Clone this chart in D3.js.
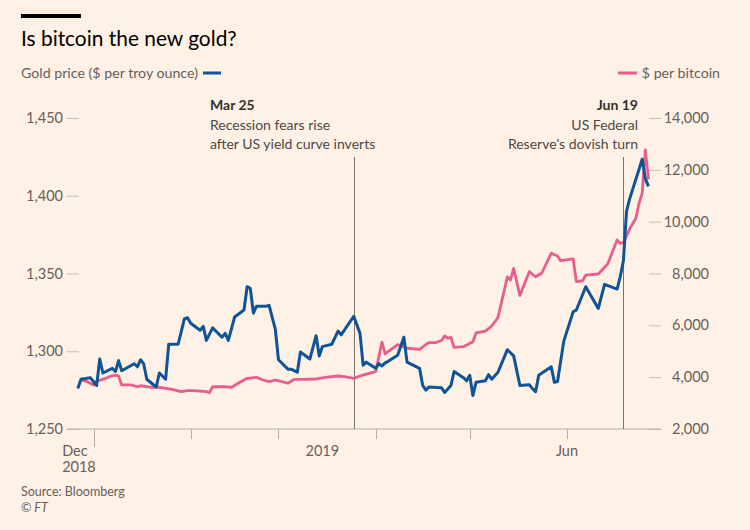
<!DOCTYPE html>
<html><head><meta charset="utf-8">
<script src="https://cdn.jsdelivr.net/npm/d3@7"></script>
<style>
body{margin:0;background:#fff1e5;}
svg{display:block;font-family:Lato,"Noto Sans",sans-serif;}
</style>
</head><body><svg id="chart" width="750" height="530"></svg>
<script>
// ---------------- DATA ----------------
const goldDates = ["2018-12-27","2018-12-28","2018-12-31","2019-01-02","2019-01-03","2019-01-04","2019-01-07","2019-01-08","2019-01-09","2019-01-10",
"2019-01-14","2019-01-15","2019-01-16","2019-01-17","2019-01-18","2019-01-21","2019-01-22","2019-01-24","2019-01-25","2019-01-28",
"2019-01-30","2019-01-31","2019-02-01","2019-02-04","2019-02-05","2019-02-06","2019-02-08","2019-02-11","2019-02-12","2019-02-13",
"2019-02-15","2019-02-18","2019-02-19","2019-02-20","2019-02-21","2019-02-22","2019-02-25","2019-02-26","2019-02-28","2019-03-01",
"2019-03-04","2019-03-05","2019-03-06","2019-03-07","2019-03-08","2019-03-11","2019-03-13","2019-03-14","2019-03-15","2019-03-18",
"2019-03-20","2019-03-21","2019-03-25","2019-03-27","2019-03-28","2019-03-29","2019-04-01","2019-04-02","2019-04-03","2019-04-04",
"2019-04-05","2019-04-08","2019-04-10","2019-04-11","2019-04-15","2019-04-16","2019-04-17","2019-04-18","2019-04-22","2019-04-23",
"2019-04-25","2019-04-26","2019-04-29","2019-04-30","2019-05-01","2019-05-02","2019-05-03","2019-05-06","2019-05-07","2019-05-08",
"2019-05-10","2019-05-13","2019-05-14","2019-05-15","2019-05-17","2019-05-20","2019-05-21","2019-05-22","2019-05-23","2019-05-27",
"2019-05-28","2019-05-29","2019-05-31","2019-06-03","2019-06-04","2019-06-07","2019-06-11","2019-06-13","2019-06-17","2019-06-18",
"2019-06-19","2019-06-20","2019-06-21","2019-06-24","2019-06-25","2019-06-26","2019-06-27"];
const goldValues = [1276,1282,1283,1278,1295,1286,1289,1287,1294,1287.5,
1292,1290,1294.5,1292,1282,1277,1286,1282,1304.5,1304.5,
1321,1321.5,1318,1313.5,1316,1307,1315,1309,1311.5,1307,
1322,1326.5,1341.5,1340.5,1324.5,1329,1329,1329.5,1314,1294.5,
1288.5,1288.5,1287.5,1286.5,1299.5,1295,1310,1297,1303,1304.5,
1313,1310.5,1322.5,1311.5,1291,1293,1289,1292,1290.5,1292.5,
1293.5,1297.5,1309,1293,1289,1278,1275,1277,1276.5,1273.5,
1278,1287,1283,1281,1284.5,1271.5,1280,1281,1285,1282,
1286.5,1301,1299,1297,1278,1278.5,1276,1274,1284.5,1290,
1280,1280.5,1306.5,1325.5,1326.5,1341.5,1327.5,1343,1340,1348,
1358,1390,1398,1417,1423.5,1411,1406];

const btcDates = ["2018-12-28","2018-12-30","2019-01-01","2019-01-02","2019-01-05","2019-01-06","2019-01-08","2019-01-09","2019-01-10","2019-01-13",
"2019-01-15","2019-01-16","2019-01-18","2019-01-20","2019-01-22","2019-01-24","2019-01-26","2019-01-29","2019-01-31","2019-02-02",
"2019-02-04","2019-02-06","2019-02-07","2019-02-08","2019-02-12","2019-02-14","2019-02-17","2019-02-19","2019-02-22","2019-02-24",
"2019-02-26","2019-02-28","2019-03-02","2019-03-04","2019-03-06","2019-03-09","2019-03-13","2019-03-16","2019-03-20","2019-03-22",
"2019-03-25","2019-03-27","2019-03-29","2019-04-01","2019-04-03","2019-04-04","2019-04-08","2019-04-11","2019-04-15","2019-04-17",
"2019-04-18","2019-04-20","2019-04-22","2019-04-23","2019-04-24","2019-04-25","2019-04-26","2019-04-29","2019-05-02","2019-05-03",
"2019-05-06","2019-05-08","2019-05-10","2019-05-13","2019-05-14","2019-05-15","2019-05-17","2019-05-20","2019-05-22","2019-05-24",
"2019-05-27","2019-05-29","2019-05-30","2019-06-03","2019-06-04","2019-06-06","2019-06-07","2019-06-11","2019-06-14","2019-06-17",
"2019-06-18","2019-06-19","2019-06-21","2019-06-23","2019-06-24","2019-06-25","2019-06-26","2019-06-27"];
const btcValues = [3890,3825,3700,3850,3955,4020,4080,4045,3700,3700,
3630,3670,3630,3610,3610,3570,3530,3440,3480,3480,
3465,3440,3400,3630,3630,3610,3825,3955,3995,3890,
3825,3890,3825,3765,3915,3915,3930,3995,4045,4020,
3955,4045,4120,4210,5355,4895,5260,5115,5075,5260,
5330,5330,5415,5590,5500,5540,5150,5175,5370,5705,
5775,5975,6300,7865,7750,8200,7150,8070,7875,8020,
8780,8675,8495,8560,7685,7720,7940,7980,8365,9290,
9165,9195,9715,10130,10710,11095,12765,11635];

const goldTicks = [1250,1300,1350,1400,1450];
const btcTicks = [2000,4000,6000,8000,10000,12000,14000];
const monthTicks = ["2019-01-01","2019-02-01","2019-03-01","2019-04-01","2019-05-01","2019-06-01"];
const xLabelTexts = [["Dec","2018"],["2019"],["Jun"]];
const xLabelDates = ["2018-12-22","2019-03-15","2019-06-01"];
const eventDates = ["2019-03-25","2019-06-19"];
const eventTitles = ["Mar 25","Jun 19"];
const eventLines = [["Recession fears rise","after US yield curve inverts"],["US Federal","Reserve\u2019s dovish turn"]];

// ---------------- CHART ----------------
const parse = d3.timeParse("%Y-%m-%d");
const svg = d3.select("#chart");
const W = 750, H = 530;
svg.append("rect").attr("width",W).attr("height",H).attr("fill","#fff1e5");

const plotTop = 118, plotBottom = 429;
const x = d3.scaleTime().domain([parse("2019-01-01"), parse("2019-07-01")]).range([93.5, 661]);
const yGold = d3.scaleLinear().domain([1250,1450]).range([plotBottom, plotTop]);
const yBtc = d3.scaleLinear().domain([2000,14000]).range([plotBottom, plotTop]);

const textGrey = "#66605c";
const tickCol = "#c9bfb5";

// header
svg.append("rect").attr("x",21).attr("y",14).attr("width",60).attr("height",4).attr("fill","#000");
svg.append("text").attr("x",21).attr("y",46).attr("font-size",20.9).attr("fill","#000").text("Is bitcoin the new gold?");

// legends
const lg = svg.append("text").attr("x",21).attr("y",78).attr("font-size",14.2).attr("fill",textGrey).text("Gold price ($ per troy ounce)");
const lgW = lg.node().getComputedTextLength();
svg.append("line").attr("x1",21+lgW+5).attr("x2",21+lgW+23).attr("y1",73).attr("y2",73).attr("stroke","#0f5499").attr("stroke-width",3);
svg.append("text").attr("x",720).attr("y",78).attr("font-size",14.2).attr("fill",textGrey).attr("text-anchor","end").text("$ per bitcoin");
svg.append("line").attr("x1",618).attr("x2",637).attr("y1",73).attr("y2",73).attr("stroke","#e95d8c").attr("stroke-width",3);

// left axis
const gL = svg.append("g").attr("transform","translate(79,0)")
  .call(d3.axisLeft(yGold).tickValues(goldTicks).tickSize(12).tickPadding(4).tickFormat(d3.format(",")));
gL.select(".domain").remove();
gL.selectAll("line").attr("stroke",tickCol);
gL.selectAll("text").attr("font-size",14.5).attr("fill",textGrey).attr("font-family","Lato");

// right axis
const gR = svg.append("g").attr("transform","translate(649,0)")
  .call(d3.axisRight(yBtc).tickValues(btcTicks).tickSize(12).tickFormat(d3.format(",")));
gR.select(".domain").remove();
gR.selectAll("line").attr("stroke",tickCol);
gR.selectAll("text").attr("font-size",14.5).attr("fill",textGrey).attr("text-anchor","end").attr("x",60).attr("font-family","Lato");

// baseline
svg.append("line").attr("x1",67).attr("x2",661).attr("y1",plotBottom).attr("y2",plotBottom).attr("stroke","#b8aea5").attr("stroke-width",1);

// x ticks
svg.selectAll(".mt").data(monthTicks).enter().append("line")
  .attr("x1",d=>Math.round(x(parse(d)))+0.5).attr("x2",d=>Math.round(x(parse(d)))+0.5)
  .attr("y1",plotBottom).attr("y2",(d,i)=> i===0 ? 447 : 439)
  .attr("stroke","#b8aea5").attr("stroke-width",1);

// x labels
xLabelTexts.forEach((lines,i)=>{
  const t = svg.append("text").attr("font-size",14.5).attr("fill",textGrey)
    .attr("text-anchor", i===0 ? "start" : "middle")
    .attr("x", x(parse(xLabelDates[i]))).attr("y",456);
  lines.forEach((l,j)=> t.append("tspan").attr("x", x(parse(xLabelDates[i]))).attr("dy", j===0?0:16).text(l));
});

// event lines
eventDates.forEach((d,i)=>{
  const xx = Math.round(x(parse(d)))+0.5;
  svg.append("line").attr("x1",xx).attr("x2",xx).attr("y1",157).attr("y2",plotBottom)
    .attr("stroke","#7a726d").attr("stroke-width",1);
});
// event text
const evAnchor = ["start","end"];
const evX = [210, 638];
eventTitles.forEach((t,i)=>{
  const g = svg.append("text").attr("font-size",14).attr("text-anchor",evAnchor[i]).attr("fill","#4d4845");
  g.append("tspan").attr("x",evX[i]).attr("y",110).attr("font-weight","bold").attr("fill","#33302e").text(t);
  eventLines[i].forEach((l,j)=> g.append("tspan").attr("x",evX[i]).attr("y",130+j*18.5).text(l));
});

// series
const btcData = btcDates.map((d,i)=>({date:parse(d), v:btcValues[i]}));
const goldData = goldDates.map((d,i)=>({date:parse(d), v:goldValues[i]}));
svg.append("path").datum(btcData)
  .attr("d", d3.line().x(d=>x(d.date)).y(d=>yBtc(d.v)))
  .attr("fill","none").attr("stroke","#e95d8c").attr("stroke-width",2.8).attr("stroke-linejoin","round");
svg.append("path").datum(goldData)
  .attr("d", d3.line().x(d=>x(d.date)).y(d=>yGold(d.v)))
  .attr("fill","none").attr("stroke","#0f5499").attr("stroke-width",3).attr("stroke-linejoin","round");

// source
svg.append("text").attr("x",21).attr("y",496).attr("font-size",12.5).attr("fill",textGrey).text("Source: Bloomberg");
svg.append("text").attr("x",21).attr("y",512).attr("font-size",12.5).attr("fill",textGrey).attr("font-style","italic").text("\u00a9 FT");
</script>
</body></html>
